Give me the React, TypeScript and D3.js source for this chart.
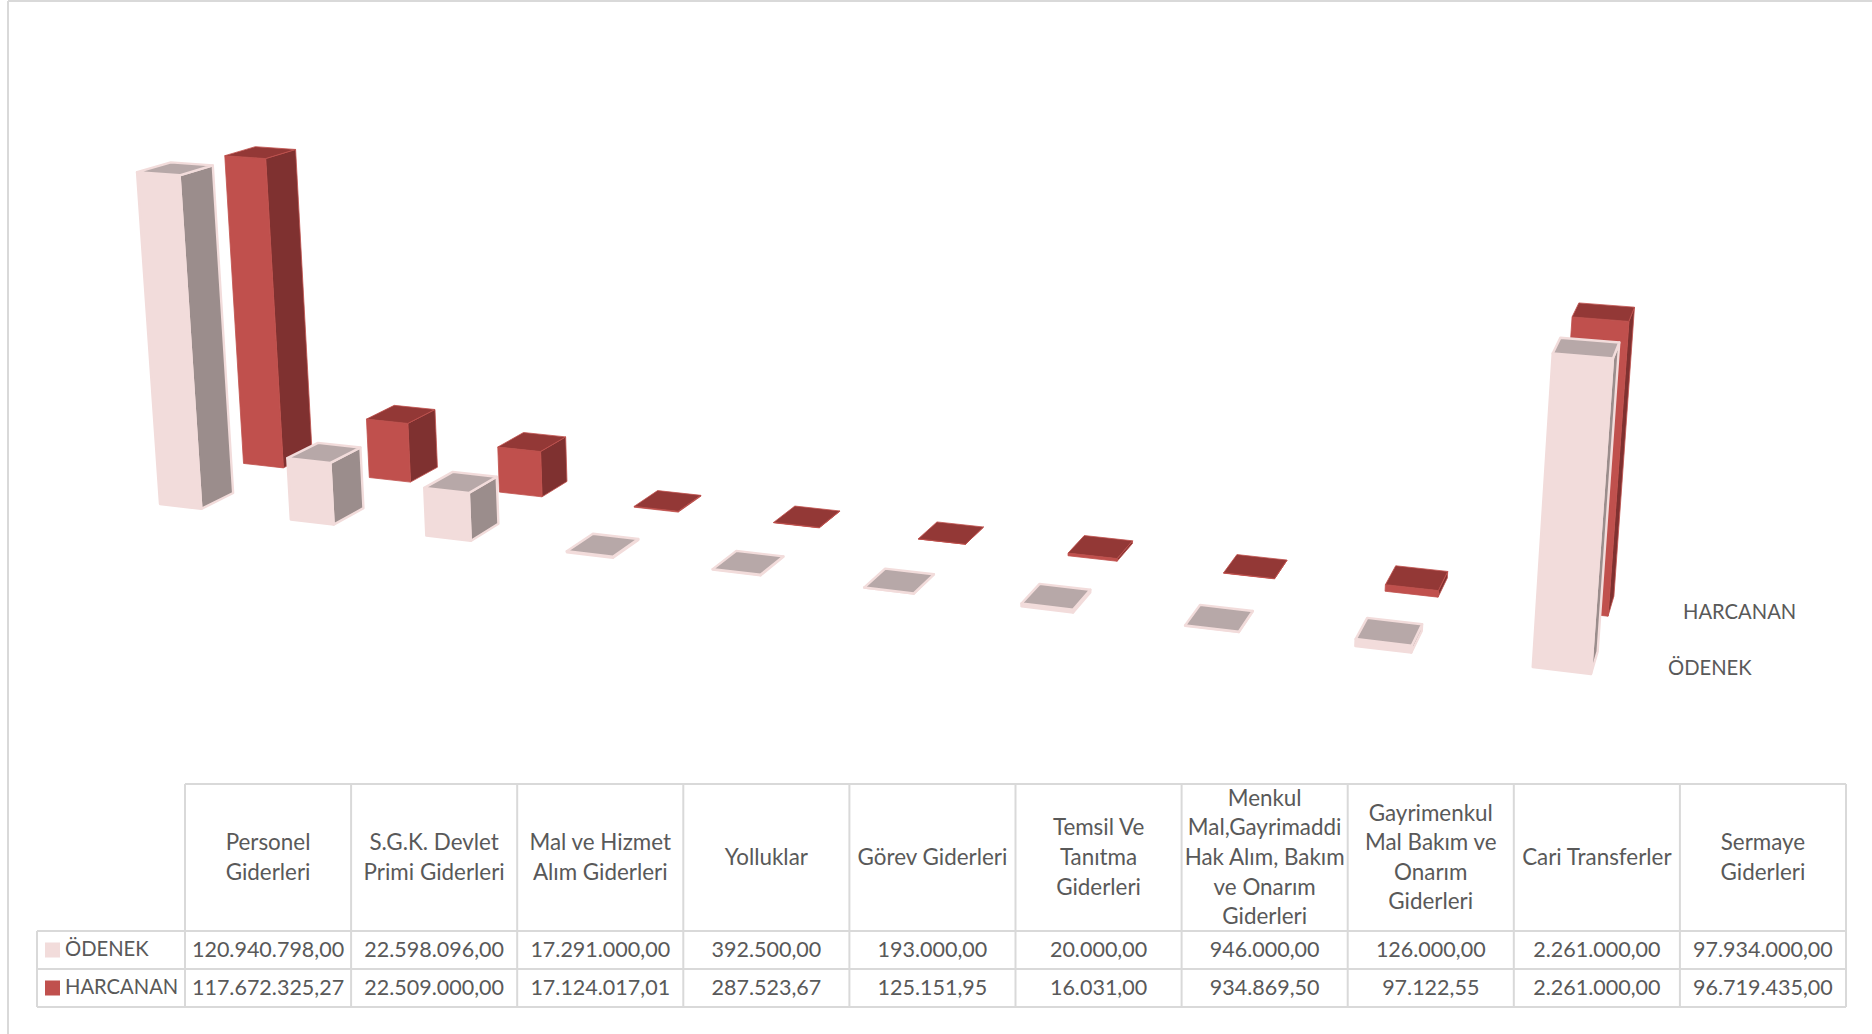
import React from "react";
import * as d3 from "d3";

// Budget lines, two rows per line of the data table.
const categories: string[][] = [
  ["Personel", "Giderleri"],
  ["S.G.K. Devlet", "Primi Giderleri"],
  ["Mal ve Hizmet", "Alım Giderleri"],
  ["Yolluklar"],
  ["Görev Giderleri"],
  ["Temsil Ve", "Tanıtma", "Giderleri"],
  ["Menkul", "Mal,Gayrimaddi", "Hak Alım, Bakım", "ve Onarım", "Giderleri"],
  ["Gayrimenkul", "Mal Bakım ve", "Onarım", "Giderleri"],
  ["Cari Transferler"],
  ["Sermaye", "Giderleri"],
];
const odenek = [
  120940798, 22598096, 17291000, 392500, 193000, 20000, 946000, 126000, 2261000, 97934000,
];
const harcanan = [
  117672325.27, 22509000, 17124017.01, 287523.67, 125151.95, 16031, 934869.5, 97122.55, 2261000,
  96719435,
];
const seriesNames = ["ÖDENEK", "HARCANAN"];

const W = 1872;
const H = 1034;
const FONT = "Lato, 'Open Sans', sans-serif";
const TEXT = "#595959";
const GRID = "#D9D9D9";
const HEADER_SIZE = 22.4;
const NUMBER_SIZE = 21.5;
const NAME_SIZE = 20.2;

const palette = {
  ÖDENEK: { front: "#F2DCDB", side: "#9B8D8C", top: "#B7A8A8", stroke: "#F2DCDB", sw: 2.4 },
  HARCANAN: { front: "#C0504D", side: "#7F3130", top: "#933836", stroke: "#C0504D", sw: 0.8 },
} as const;

// Turkish number format: 1.234.567,89
const trNumber = d3.formatLocale({
  decimal: ",",
  thousands: ".",
  grouping: [3],
  currency: ["", " TL"],
}).format(",.2f");

// Scene axes: u runs along the budget lines, v into the depth, h upward.
const uScale = d3
  .scaleBand<number>()
  .domain(d3.range(categories.length))
  .range([0, 9.32])
  .paddingInner(0.68);
const vScale = d3.scaleBand<string>().domain(seriesNames).range([0, 3.66]).paddingInner(0.624);
const hScale = d3.scaleLinear().domain([0, 1e8]).range([0, 1]);

// Perspective camera expressed as a 3x4 homogeneous matrix.
function project(u: number, v: number, h: number): [number, number] {
  const w = 1 - 0.0175 * u + 0.0191 * v - 0.02558 * h;
  return [
    (160 + 125.7 * u + 36.06 * v - 22.51 * h) / w,
    (504 + 6.44 * u - 6.4 * v - 278.8 * h) / w,
  ];
}

const poly = d3.line<[number, number]>();

function Bar({ index, series, value }: { index: number; series: string; value: number }) {
  const u0 = uScale(index)!;
  const u1 = u0 + uScale.bandwidth();
  const v0 = vScale(series)!;
  const v1 = v0 + vScale.bandwidth();
  const h = hScale(value);
  const style = palette[series as keyof typeof palette];
  const faces: { fill: string; pts: [number, number][] }[] = [
    {
      fill: style.side,
      pts: [project(u1, v0, 0), project(u1, v1, 0), project(u1, v1, h), project(u1, v0, h)],
    },
    {
      fill: style.front,
      pts: [project(u0, v0, 0), project(u1, v0, 0), project(u1, v0, h), project(u0, v0, h)],
    },
    {
      fill: style.top,
      pts: [project(u0, v0, h), project(u1, v0, h), project(u1, v1, h), project(u0, v1, h)],
    },
  ];
  return (
    <g>
      {faces.map((f, i) => (
        <path
          key={i}
          d={poly(f.pts)! + "Z"}
          fill={f.fill}
          stroke={style.stroke}
          strokeWidth={style.sw}
          strokeLinejoin="round"
        />
      ))}
    </g>
  );
}

function DataTable() {
  const columns = d3
    .scaleLinear()
    .domain([0, categories.length])
    .range([185, 1846]);
  const rowY = [784, 931, 969, 1007];
  const legendLeft = 37;
  const lineGap = 29.6;
  const cols = d3.range(categories.length);
  const rows = [
    { name: seriesNames[0], values: odenek },
    { name: seriesNames[1], values: harcanan },
  ];
  return (
    <g fontFamily={FONT} fill={TEXT}>
      <g stroke={GRID} strokeWidth={2} fill="none">
        <line x1={columns(0)} x2={columns(10)} y1={rowY[0]} y2={rowY[0]} />
        {rowY.slice(1).map((y) => (
          <line key={y} x1={legendLeft} x2={columns(10)} y1={y} y2={y} />
        ))}
        <line x1={legendLeft} x2={legendLeft} y1={rowY[1]} y2={rowY[3]} />
        {d3.range(categories.length + 1).map((i) => (
          <line key={i} x1={columns(i)} x2={columns(i)} y1={rowY[0]} y2={rowY[3]} />
        ))}
      </g>
      {cols.map((c) => {
        const cx = (columns(c) + columns(c + 1)) / 2;
        const lines = categories[c];
        const cy = (rowY[0] + rowY[1]) / 2 - 1;
        return (
          <g key={c} textAnchor="middle" fontSize={HEADER_SIZE}>
            {lines.map((t, i) => (
              <text key={i} x={cx} y={cy + (i - (lines.length - 1) / 2) * lineGap} dominantBaseline="central">
                {t}
              </text>
            ))}
          </g>
        );
      })}
      {rows.map((row, r) => {
        const cy = (rowY[r + 1] + rowY[r + 2]) / 2;
        return (
          <g key={row.name}>
            <rect
              x={45}
              y={cy - 7.5}
              width={15}
              height={15}
              fill={palette[row.name as keyof typeof palette].front}
            />
            <text x={65} y={cy - 2} dominantBaseline="central" fontSize={NAME_SIZE}>
              {row.name}
            </text>
            {row.values.map((v, c) => (
              <text
                key={c}
                x={(columns(c) + columns(c + 1)) / 2}
                y={cy - 1}
                textAnchor="middle"
                dominantBaseline="central"
                fontSize={NUMBER_SIZE}
              >
                {trNumber(v)}
              </text>
            ))}
          </g>
        );
      })}
    </g>
  );
}

export default function App() {
  const cols = d3.range(categories.length);
  return (
    <svg
      width={W}
      height={H}
      viewBox={`0 0 ${W} ${H}`}
      style={{ position: "absolute", left: 0, top: 0, display: "block", background: "#fff" }}
    >
      {/* chart frame */}
      <line x1={8} x2={8} y1={1} y2={H} stroke={GRID} strokeWidth={2} />
      <line x1={8} x2={W} y1={1} y2={1} stroke={GRID} strokeWidth={2} />

      {/* the rear series goes first so the front row overlaps it */}
      {cols.map((c) => (
        <Bar key={c} index={c} series="HARCANAN" value={harcanan[c]} />
      ))}
      {cols.map((c) => (
        <Bar key={c} index={c} series="ÖDENEK" value={odenek[c]} />
      ))}

      {/* depth-axis series labels */}
      <g fontFamily={FONT} fill={TEXT} fontSize={NAME_SIZE}>
        <text x={1683} y={611} dominantBaseline="central">
          {seriesNames[1]}
        </text>
        <text x={1668} y={667} dominantBaseline="central">
          {seriesNames[0]}
        </text>
      </g>

      <DataTable />
    </svg>
  );
}
